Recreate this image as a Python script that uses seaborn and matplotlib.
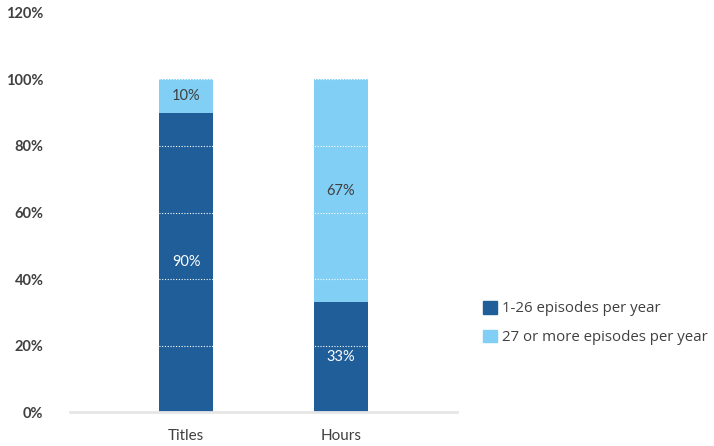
import matplotlib
matplotlib.use("Agg")
import matplotlib.pyplot as plt
import seaborn as sns
import numpy as np
from matplotlib.patches import Patch

categories = ["Titles", "Hours"]
short_run = [90, 33]    # 1-26 episodes per year
long_run = [10, 67]     # 27 or more episodes per year
series_names = ["1-26 episodes per year", "27 or more episodes per year"]
yticks = [0, 20, 40, 60, 80, 100, 120]

dark = "#1f5e99"
light = "#82cff5"
txt = "#404040"

sns.set_theme(style="white")
plt.rcParams["font.family"] = ["Lato", "DejaVu Sans"]

fig = plt.figure(figsize=(7.14, 4.46), dpi=100)
ax = fig.add_axes([0.098, 0.076, 0.542, 0.895])

total = np.array(short_run) + np.array(long_run)
sns.barplot(x=categories, y=total, color=light, width=0.345, saturation=1,
            linewidth=0, ax=ax)
sns.barplot(x=categories, y=short_run, color=dark, width=0.345, saturation=1,
            linewidth=0, ax=ax)

for i, (lo, hi) in enumerate(zip(short_run, long_run)):
    ax.text(i, lo / 2, f"{lo}%", ha="center", va="center", color="white", fontsize=10.5)
    ax.text(i, lo + hi / 2, f"{hi}%", ha="center", va="center", color=txt, fontsize=10.5)

ax.set_xlim(-0.75, 1.75)
ax.set_ylim(0, 120)
ax.set_yticks(yticks)
ax.set_yticklabels([f"{t}%" for t in yticks], fontweight="bold", color=txt, fontsize=10.5)
ax.tick_params(axis="y", length=0, pad=19)
ax.tick_params(axis="x", length=0, pad=12, labelcolor=txt, labelsize=11)
ax.set_xlabel("")
ax.set_ylabel("")

ax.grid(axis="y", color="white", linestyle=(0, (1, 1.5)), linewidth=0.8)
ax.set_axisbelow(False)
for s in ["left", "right", "top"]:
    ax.spines[s].set_visible(False)
ax.spines["bottom"].set_color("#e6e6e6")
ax.spines["bottom"].set_linewidth(2)

handles = [Patch(color=dark), Patch(color=light)]
fig.legend(handles, series_names, loc="center left", bbox_to_anchor=(0.657, 0.276),
           frameon=False, prop={"family": ["Open Sans", "DejaVu Sans"], "size": 10.8},
           handlelength=0.95, handleheight=0.95,
           handletextpad=0.35, labelspacing=0.88, labelcolor=txt)

fig.savefig("out.png", dpi=100)
